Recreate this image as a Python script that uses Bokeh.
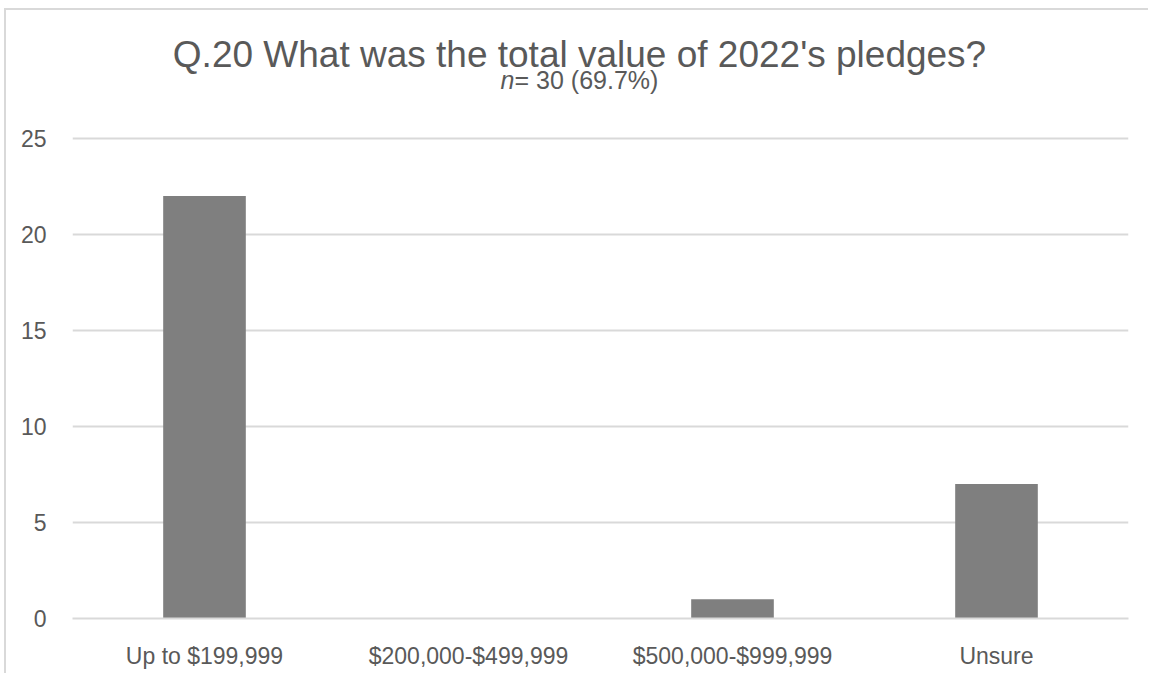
from bokeh.plotting import figure
from bokeh.models import FactorRange, Range1d, FixedTicker, Label
from bokeh.embed import file_html
from bokeh.resources import INLINE

# ---- data ----
categories = ["Up to $199,999", "$200,000-$499,999", "$500,000-$999,999", "Unsure"]
counts = [22, 0, 1, 7]
y_ticks = [0, 5, 10, 15, 20, 25]
title_text = "Q.20 What was the total value of 2022's pledges?"
subtitle_n = "n"
subtitle_rest = "= 30 (69.7%)"

FONT = "Liberation Sans"
TXT = "#595959"
GRID = "#d9d9d9"

p = figure(
    title=None,
    x_range=FactorRange(*categories, range_padding=0),
    y_range=Range1d(0, 30.62),
    width=1144, height=665,
    output_backend="svg", toolbar_location=None,
    min_border_left=66, min_border_right=22,
    min_border_top=20, min_border_bottom=57,
)
p.styles = {
    "margin-left": "4px", "margin-top": "8px",
    "border-left": f"2px solid {GRID}", "border-top": f"2px solid {GRID}",
}
p.outline_line_color = None
p.background_fill_color = "white"
p.border_fill_color = "white"

p.vbar(x=categories, top=counts, width=0.313, color="#7f7f7f", line_color=None)

p.xgrid.visible = False
p.ygrid.grid_line_color = GRID
p.ygrid.grid_line_width = 2
p.yaxis.ticker = FixedTicker(ticks=y_ticks)
p.ygrid.ticker = FixedTicker(ticks=y_ticks)

p.yaxis.axis_line_color = None
p.yaxis.major_tick_line_color = None
p.yaxis.minor_tick_line_color = None
p.yaxis.major_label_standoff = 20
p.yaxis.major_label_text_font = FONT
p.yaxis.major_label_text_font_size = "23px"
p.yaxis.major_label_text_color = TXT

p.xaxis.axis_line_color = GRID
p.xaxis.axis_line_width = 2
p.xaxis.major_tick_line_color = None
p.xaxis.minor_tick_line_color = None
p.xaxis.major_label_standoff = 18
p.xaxis.major_label_text_font = FONT
p.xaxis.major_label_text_font_size = "23px"
p.xaxis.major_label_text_color = TXT

# title and subtitle (inside the top, tick-free part of the frame)
cx = 1.9205
p.add_layout(Label(x=cx, y=29.38, text=title_text, text_align="center",
                   text_baseline="alphabetic", text_font=FONT,
                   text_font_size="37px", text_color=TXT))
p.add_layout(Label(x=cx, y=28.05, x_offset=-65, text=subtitle_n, text_align="right",
                   text_baseline="alphabetic", text_font=FONT, text_font_style="italic",
                   text_font_size="25px", text_color=TXT))
p.add_layout(Label(x=cx, y=28.05, x_offset=-65, text=subtitle_rest, text_align="left",
                   text_baseline="alphabetic", text_font=FONT,
                   text_font_size="25px", text_color=TXT))

open("out.html", "w").write(file_html(p, INLINE))
